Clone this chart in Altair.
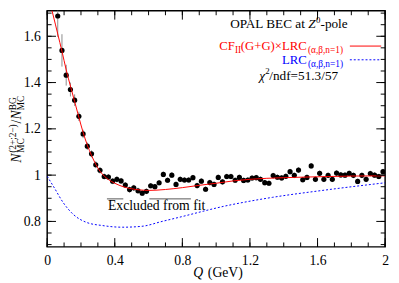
import altair as alt
import pandas as pd

# ---------------- data ----------------
q_vals = [0.0625, 0.0875, 0.1125, 0.1375, 0.1625, 0.1875, 0.2125, 0.2375, 0.2625, 0.2875,
          0.3125, 0.3375, 0.3625, 0.3875, 0.4125, 0.4375, 0.4625, 0.4875, 0.5125, 0.5375,
          0.5625, 0.5875, 0.6125, 0.6375, 0.6625, 0.6875, 0.7125, 0.7375, 0.7625, 0.7875,
          0.8125, 0.8375, 0.8625, 0.8875, 0.9125, 0.9375, 0.9625, 0.9875, 1.0125, 1.0375,
          1.0625, 1.0875, 1.1125, 1.1375, 1.1625, 1.1875, 1.2125, 1.2375, 1.2625, 1.2875,
          1.3125, 1.3375, 1.3625, 1.3875, 1.4125, 1.4375, 1.4625, 1.4875, 1.5125, 1.5375,
          1.5625, 1.5875, 1.6125, 1.6375, 1.6625, 1.6875, 1.7125, 1.7375, 1.7625, 1.7875,
          1.8125, 1.8375, 1.8625, 1.8875, 1.9125, 1.9375, 1.9625, 1.9875]
ratio_vals = [1.6875, 1.539, 1.432, 1.370, 1.324, 1.254, 1.178, 1.125, 1.092, 1.045,
              1.021, 0.994, 0.992, 0.974, 0.982, 0.975, 0.957, 0.9375, 0.945, 0.9325,
              0.922, 0.930, 0.954, 0.950, 0.967, 1.003, 0.978, 1.000, 0.960, 0.982,
              0.979, 0.979, 0.989, 0.955, 0.974, 0.939, 0.968, 0.960, 0.990, 0.971,
              0.994, 0.994, 0.978, 0.990, 0.977, 0.979, 0.9875, 0.989, 0.982, 0.9675,
              0.965, 0.998, 0.991, 0.988, 0.995, 1.015, 0.999, 1.022, 0.980, 0.990,
              1.040, 0.982, 1.008, 0.982, 0.999, 0.982, 1.009, 1.001, 1.000, 1.0075,
              0.999, 0.973, 0.999, 0.982, 1.007, 1.000, 0.994, 1.015]
err_vals = [0.09, 0.07, 0.045, 0.03, 0.025, 0.02, 0.018, 0.016, 0.015, 0.015,
            0.014, 0.013, 0.013, 0.013, 0.013, 0.013, 0.013, 0.013, 0.013, 0.013,
            0.012, 0.012, 0.012, 0.012, 0.012, 0.012, 0.012, 0.012, 0.012, 0.012,
            0.012, 0.012, 0.012, 0.012, 0.012, 0.012, 0.012, 0.012, 0.012, 0.012,
            0.012, 0.012, 0.012, 0.012, 0.012, 0.012, 0.012, 0.012, 0.012, 0.012,
            0.012, 0.012, 0.012, 0.012, 0.012, 0.012, 0.012, 0.012, 0.012, 0.012,
            0.012, 0.012, 0.012, 0.012, 0.012, 0.012, 0.012, 0.012, 0.012, 0.012,
            0.012, 0.012, 0.012, 0.012, 0.012, 0.012, 0.012, 0.012]

# fit curve CF_II(G+G) x LRC
fit_q = [0.02, 0.0365, 0.0625, 0.0875, 0.1125, 0.1375, 0.1625, 0.1875, 0.2125, 0.2375,
         0.2625, 0.2875, 0.3125, 0.3375, 0.3625, 0.4, 0.45, 0.5, 0.55, 0.6,
         0.7, 0.8, 0.9, 1.0, 1.1, 1.2, 1.4, 1.6, 1.8, 2.0]
fit_v = [1.735, 1.6875, 1.61, 1.535, 1.455, 1.385, 1.318, 1.25, 1.185, 1.13,
         1.085, 1.047, 1.017, 0.996, 0.981, 0.965, 0.95, 0.941, 0.936, 0.934,
         0.938, 0.946, 0.956, 0.965, 0.975, 0.982, 0.989, 0.993, 0.996, 0.997]

# LRC curve
lrc_q = [0.0, 0.039, 0.097, 0.155, 0.232, 0.329, 0.445, 0.561, 0.68, 0.81,
         0.928, 1.043, 1.159, 1.333, 1.64, 2.0]
lrc_v = [0.995, 0.949, 0.879, 0.83, 0.796, 0.782, 0.775, 0.779, 0.80, 0.823,
         0.845, 0.865, 0.882, 0.904, 0.935, 0.967]

# axis ticks and labels
x_minor = [0.0, 0.1, 0.2, 0.3, 0.4, 0.5, 0.6, 0.7, 0.8, 0.9, 1.0,
           1.1, 1.2, 1.3, 1.4, 1.5, 1.6, 1.7, 1.8, 1.9, 2.0]
x_major = [0.0, 0.4, 0.8, 1.2, 1.6, 2.0]
y_minor = [0.7, 0.75, 0.8, 0.85, 0.9, 0.95, 1.0, 1.05, 1.1, 1.15, 1.2,
           1.25, 1.3, 1.35, 1.4, 1.45, 1.5, 1.55, 1.6, 1.65, 1.7]
y_major = [0.8, 1.0, 1.2, 1.4, 1.6]

# ---------------- chart ----------------
W, H = 345, 241
FONT = "'Liberation Serif', 'Times New Roman', Times, serif"
xs = alt.Scale(domain=[0, 2], nice=False, zero=False)
ys = alt.Scale(domain=[0.69, 1.71], nice=False, zero=False)

pts = pd.DataFrame({"Q": q_vals, "R": ratio_vals, "E": err_vals})
pts["lo"] = pts["R"] - pts["E"]
pts["hi"] = pts["R"] + pts["E"]
fit = pd.DataFrame({"Q": fit_q, "R": fit_v})
lrc = pd.DataFrame({"Q": lrc_q, "R": lrc_v})
one = pd.DataFrame({"o": [0]})

xaxis = alt.Axis(values=x_major, format="~g", title=None, labelFlush=False,
                 labelOverlap=False, labelPadding=7, labelFont=FONT, labelFontSize=14,
                 labelColor="black", ticks=False, domain=False, grid=False)
yaxis = alt.Axis(values=y_major, format="~g", title=None, labelFlush=False,
                 labelOverlap=False, labelPadding=7, labelFont=FONT, labelFontSize=14,
                 labelColor="black", ticks=False, domain=False, grid=False)


def X(f):
    return alt.X(f, scale=xs, axis=xaxis, title=None)


def Y(f):
    return alt.Y(f, scale=ys, axis=yaxis, title=None)


errbars = alt.Chart(pts).mark_rule(color="#8a8a8a", strokeWidth=1, clip=True).encode(
    x=X("Q:Q"), y=Y("lo:Q"), y2="hi:Q")
points = alt.Chart(pts).mark_circle(size=28, color="black", opacity=1, clip=True).encode(
    x=X("Q:Q"), y=Y("R:Q"))
fit_line = alt.Chart(fit).mark_line(color="#ff0000", strokeWidth=1, interpolate="monotone",
                                    clip=True).encode(x=X("Q:Q"), y=Y("R:Q"))
lrc_line = alt.Chart(lrc).mark_line(color="#0000ff", strokeWidth=1, strokeDash=[2, 2],
                                    interpolate="monotone", clip=True).encode(
    x=X("Q:Q"), y=Y("R:Q"))


def xticks(vals, length):
    d = pd.DataFrame({"Q": vals})
    bottom = alt.Chart(d).mark_rule(color="black", strokeWidth=1).encode(
        x=X("Q:Q"), y=alt.value(H), y2=alt.value(H - length))
    top = alt.Chart(d).mark_rule(color="black", strokeWidth=1).encode(
        x=X("Q:Q"), y=alt.value(0), y2=alt.value(length))
    return [bottom, top]


def yticks(vals, length):
    d = pd.DataFrame({"R": vals})
    left = alt.Chart(d).mark_rule(color="black", strokeWidth=1).encode(
        y=Y("R:Q"), x=alt.value(0), x2=alt.value(length))
    right = alt.Chart(d).mark_rule(color="black", strokeWidth=1).encode(
        y=Y("R:Q"), x=alt.value(W), x2=alt.value(W - length))
    return [left, right]


def txt(s, x, y, size=13.5, color="black", italic=False, align="left", angle=None, dx=0, dy=0):
    kw = dict(align=align, baseline="alphabetic", font=FONT, fontSize=size, color=color,
              dx=dx, dy=dy)
    if italic:
        kw["fontStyle"] = "italic"
    if angle is not None:
        kw["angle"] = angle
    return alt.Chart(one).mark_text(**kw).encode(
        x=alt.value(x), y=alt.value(y), text=alt.value(s))


def seg(x1, x2, y, color, dash=None, width=1):
    kw = dict(color=color, strokeWidth=width)
    if dash:
        kw["strokeDash"] = dash
    return alt.Chart(one).mark_rule(**kw).encode(
        x=alt.value(x1), x2=alt.value(x2), y=alt.value(y))


ticks = xticks(x_minor, 4.5) + xticks(x_major, 9) + yticks(y_minor, 4.5) + yticks(y_major, 9)

# y-axis title (rotated, composed)
YT_X, YT_Y = -27, 155
ytitle = [
    txt("N", YT_X, YT_Y, size=14, italic=True, angle=270),
    txt("(2+;2\u2212)", YT_X, YT_Y, size=9.5, angle=270, dx=10, dy=-5),
    txt("MC", YT_X, YT_Y, size=9.5, angle=270, dx=10, dy=3),
    txt("/", YT_X, YT_Y, size=14, angle=270, dx=40),
    txt("N", YT_X, YT_Y, size=14, italic=True, angle=270, dx=44),
    txt("BG", YT_X, YT_Y, size=9.5, angle=270, dx=53.5, dy=-5),
    txt("MC", YT_X, YT_Y, size=9.5, angle=270, dx=53.5, dy=3),
]
# x-axis title
xtitle = [
    txt("Q", 149, 272, size=14, italic=True),
    txt("(GeV)", 164, 272, size=14),
]
# legend / annotations (plot-area pixel offsets)
legend = [
    txt("OPAL BEC at", 263, 18, align="right"),
    txt("Z", 266.5, 18, italic=True),
    txt("0", 274.5, 18, size=9, dy=-6),
    txt("-pole", 279, 18),
    txt("(\u03b1,\u03b2,n=1)", 302, 40, size=9.5, color="#ff0000", align="right", dy=3),
    txt("(G+G)\u00d7LRC", 265, 40, size=13, color="#ff0000", align="right"),
    txt("II", 198, 40, size=9.5, color="#ff0000", align="right", dy=3),
    txt("CF", 191.5, 40, size=13, color="#ff0000", align="right"),
    seg(309, 341, 36, "#ff0000"),
    txt("(\u03b1,\u03b2,n=1)", 302, 54, size=9.5, color="#0000ff", align="right", dy=3),
    txt("LRC", 265, 54, size=13, color="#0000ff", align="right"),
    seg(309, 341, 50, "#0000ff", dash=[2, 2]),
    txt("/ndf=51.3/57", 297, 71, align="right"),
    txt("2", 227, 71, size=9, align="right", dy=-6),
    txt("\u03c7", 222.5, 71, italic=True, align="right"),
    txt("Excluded from fit", 62, 203, size=14),
    seg(61, 77.7, 192, "#555555"),
    seg(104.3, 146.7, 192, "#555555"),
]

chart = alt.layer(errbars, points, lrc_line, fit_line, *ticks, *ytitle, *xtitle, *legend).properties(
    width=W, height=H,
    autosize=alt.AutoSizeParams(type="none"),
    padding={"left": 40, "top": 0, "right": 6, "bottom": 34},
).configure_view(
    stroke="black", strokeWidth=1.5
).configure_axis(
    grid=False, ticks=False, domain=False, labelFont=FONT, labelFontSize=14, labelColor="black"
)

chart.save("out.html", embed_options={"renderer": "svg", "actions": False})
